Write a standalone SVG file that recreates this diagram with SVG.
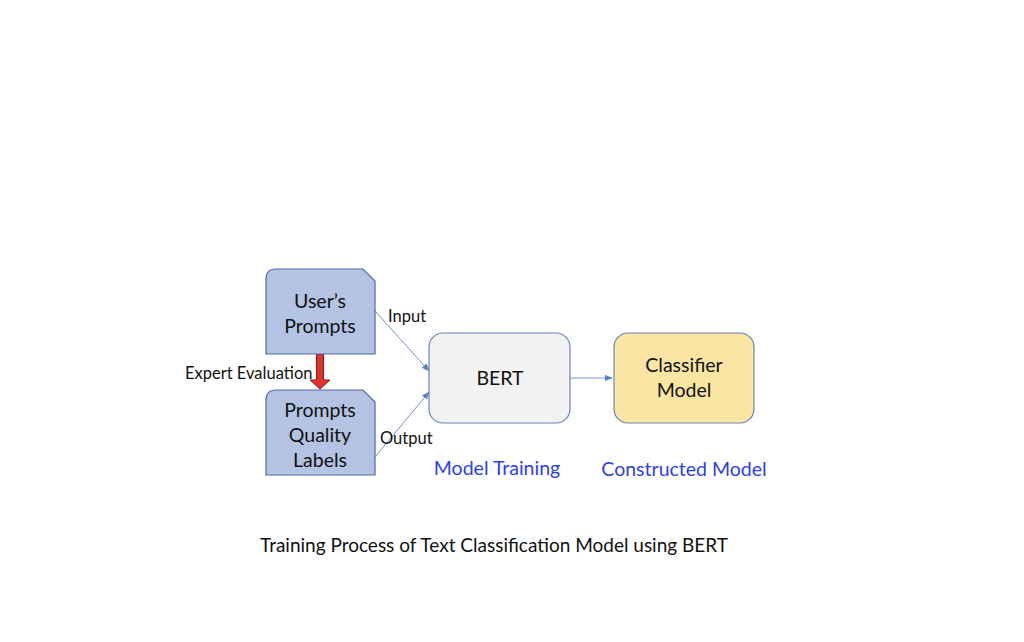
<svg xmlns="http://www.w3.org/2000/svg" width="1024" height="642" viewBox="0 0 1024 642">
<defs>
<style>
.doc{fill:#b4c3e3;stroke:#4f6aa8;stroke-width:1.2}
.t{font-family:"Lato","Liberation Sans",sans-serif;fill:#111}
.n{font-size:19.5px;text-anchor:middle}
.l{font-size:16.5px}
.b{font-size:19.5px;fill:#2b3ff0;text-anchor:middle}
.c{stroke:#7391cc;stroke-width:1;fill:none;marker-end:url(#ah)}
</style>
<marker id="ah" viewBox="0 0 10 10" refX="9" refY="5" markerWidth="8" markerHeight="8" orient="auto" markerUnits="userSpaceOnUse">
<path d="M0,1 L10,5 L0,9 z" fill="#5b7fc8"/>
</marker>
</defs>
<rect width="1024" height="642" fill="#fff"/>
<g id="connectors">
<line class="c" x1="375" y1="311" x2="429" y2="371"/>
<line class="c" x1="375" y1="457" x2="429" y2="392"/>
<line class="c" x1="570" y1="378" x2="612" y2="378"/>
<path d="M316.5,354 L323.5,354 L323.5,380 L330,380 L320,389 L310,380 L316.5,380 Z" fill="#e2312b" stroke="#8b1e1a" stroke-width="1"/>
</g>
<g id="users-prompts">
<path class="doc" d="M276,269 L363,269 L375,281 L375,354 L266,354 L266,279 Q266,269 276,269 Z"/>
<text class="t n" x="320" y="308">User’s</text>
<text class="t n" x="320" y="333">Prompts</text>
</g>
<g id="quality-labels">
<path class="doc" d="M276,390 L363,390 L375,402 L375,475 L266,475 L266,400 Q266,390 276,390 Z"/>
<text class="t n" x="320" y="417">Prompts</text>
<text class="t n" x="320" y="442">Quality</text>
<text class="t n" x="320" y="467">Labels</text>
</g>
<g id="bert">
<rect x="429" y="333" width="141" height="90" rx="14" fill="#f2f2f2" stroke="#6b84b8" stroke-width="1.2"/>
<text class="t n" x="500" y="385">BERT</text>
</g>
<g id="classifier">
<rect x="614" y="333" width="140" height="90" rx="14" fill="#fbe5a2" stroke="#6b84b8" stroke-width="1.2"/>
<text class="t n" x="684" y="372">Classifier</text>
<text class="t n" x="684" y="397">Model</text>
</g>
<g id="labels">
<text class="t l" x="388" y="322">Input</text>
<text class="t l" x="380" y="444">Output</text>
<text class="t l" x="185" y="379">Expert Evaluation</text>
<text class="t b" x="497" y="475">Model Training</text>
<text class="t b" x="684" y="476">Constructed Model</text>
<text class="t" x="494" y="552" font-size="19" text-anchor="middle">Training Process of Text Classification Model using BERT</text>
</g>
</svg>
